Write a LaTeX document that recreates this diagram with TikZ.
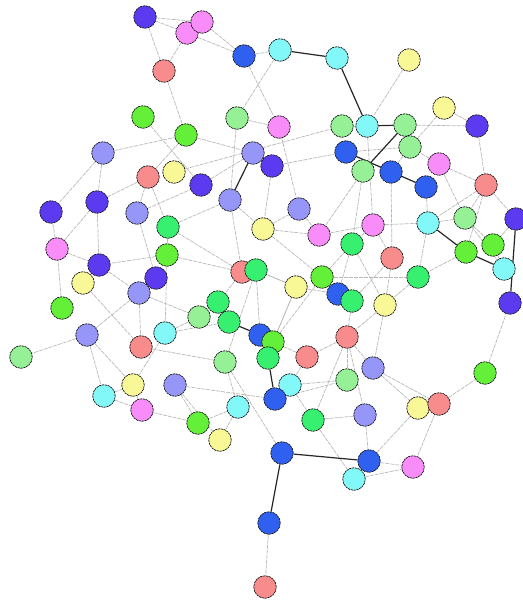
\documentclass[tikz,border=0pt]{standalone}
\usetikzlibrary{backgrounds}
\definecolor{cV}{RGB}{92,58,240}
\definecolor{cP}{RGB}{248,140,248}
\definecolor{cS}{RGB}{248,140,140}
\definecolor{cB}{RGB}{48,96,240}
\definecolor{cC}{RGB}{130,248,248}
\definecolor{cY}{RGB}{248,248,150}
\definecolor{cLG}{RGB}{150,240,150}
\definecolor{cG}{RGB}{100,240,56}
\definecolor{cSG}{RGB}{56,240,112}
\definecolor{cL}{RGB}{150,150,248}
\tikzset{
  vtx/.style={circle,draw=black!90,line width=0.7pt,dash pattern=on 2.2pt off 0.7pt,minimum size=22.5pt,inner sep=0pt},
  V/.style={vtx,fill=cV}, P/.style={vtx,fill=cP}, S/.style={vtx,fill=cS},
  B/.style={vtx,fill=cB}, C/.style={vtx,fill=cC}, Y/.style={vtx,fill=cY},
  LG/.style={vtx,fill=cLG}, G/.style={vtx,fill=cG}, SG/.style={vtx,fill=cSG},
  L/.style={vtx,fill=cL},
  edge/.style={draw=black!28,line width=0.7pt,dash pattern=on 4pt off 1pt},
  strong/.style={draw=black!85,line width=1.2pt}
}
\begin{document}
\begin{tikzpicture}[x=1pt,y=-1pt]
\useasboundingbox (0,0) rectangle (522,601);
\node[V] (n1) at (145,17) {};
\node[P] (n2) at (187,33) {};
\node[P] (n3) at (202,22) {};
\node[S] (n4) at (164,71) {};
\node[B] (n5) at (244,56) {};
\node[C] (n6) at (280,50) {};
\node[C] (n7) at (337,58) {};
\node[Y] (n8) at (409,60) {};
\node[G] (n9) at (143,117) {};
\node[G] (n10) at (186,135) {};
\node[LG] (n11) at (237,118) {};
\node[P] (n12) at (279,127) {};
\node[L] (n13) at (103,153) {};
\node[S] (n14) at (148,177) {};
\node[Y] (n15) at (174,172) {};
\node[V] (n16) at (201,185) {};
\node[L] (n17) at (253,153) {};
\node[V] (n18) at (272,166) {};
\node[LG] (n19) at (342,126) {};
\node[C] (n20) at (367,126) {};
\node[LG] (n21) at (405,125) {};
\node[Y] (n22) at (444,108) {};
\node[V] (n23) at (477,126) {};
\node[B] (n24) at (346,152) {};
\node[LG] (n25) at (410,147) {};
\node[LG] (n26) at (363,171) {};
\node[B] (n27) at (391,172) {};
\node[P] (n28) at (439,164) {};
\node[B] (n29) at (426,187) {};
\node[S] (n30) at (486,185) {};
\node[V] (n31) at (51,212) {};
\node[V] (n32) at (97,202) {};
\node[L] (n33) at (137,213) {};
\node[L] (n34) at (230,200) {};
\node[SG] (n35) at (168,227) {};
\node[Y] (n36) at (263,229) {};
\node[L] (n37) at (299,209) {};
\node[P] (n38) at (319,235) {};
\node[P] (n39) at (373,225) {};
\node[C] (n40) at (428,223) {};
\node[LG] (n41) at (465,218) {};
\node[V] (n42) at (516,219) {};
\node[G] (n43) at (493,245) {};
\node[SG] (n44) at (352,244) {};
\node[S] (n45) at (392,258) {};
\node[G] (n46) at (466,252) {};
\node[C] (n47) at (504,269) {};
\node[V] (n48) at (510,303) {};
\node[P] (n49) at (57,249) {};
\node[V] (n50) at (99,265) {};
\node[G] (n51) at (167,255) {};
\node[V] (n52) at (156,278) {};
\node[Y] (n53) at (83,283) {};
\node[L] (n54) at (139,293) {};
\node[S] (n55) at (242,272) {};
\node[SG] (n56) at (256,270) {};
\node[G] (n57) at (322,277) {};
\node[Y] (n58) at (296,287) {};
\node[SG] (n59) at (418,277) {};
\node[B] (n60) at (338,294) {};
\node[SG] (n61) at (352,301) {};
\node[Y] (n62) at (385,305) {};
\node[G] (n63) at (62,308) {};
\node[SG] (n64) at (218,302) {};
\node[LG] (n65) at (199,317) {};
\node[SG] (n66) at (229,322) {};
\node[L] (n67) at (87,335) {};
\node[C] (n68) at (165,333) {};
\node[B] (n69) at (260,335) {};
\node[G] (n70) at (273,342) {};
\node[SG] (n71) at (268,358) {};
\node[S] (n72) at (347,337) {};
\node[S] (n73) at (141,347) {};
\node[S] (n74) at (307,357) {};
\node[LG] (n75) at (21,357) {};
\node[LG] (n76) at (225,362) {};
\node[L] (n77) at (373,368) {};
\node[G] (n78) at (485,373) {};
\node[Y] (n79) at (133,385) {};
\node[L] (n80) at (175,385) {};
\node[C] (n81) at (290,385) {};
\node[LG] (n82) at (347,380) {};
\node[C] (n83) at (104,396) {};
\node[P] (n84) at (142,410) {};
\node[C] (n85) at (238,407) {};
\node[B] (n86) at (275,399) {};
\node[SG] (n87) at (313,420) {};
\node[L] (n88) at (365,415) {};
\node[Y] (n89) at (418,408) {};
\node[S] (n90) at (439,404) {};
\node[G] (n91) at (198,423) {};
\node[Y] (n92) at (220,440) {};
\node[B] (n93) at (282,453) {};
\node[B] (n94) at (369,461) {};
\node[C] (n95) at (354,479) {};
\node[P] (n96) at (413,467) {};
\node[B] (n97) at (269,523) {};
\node[S] (n98) at (265,587) {};
\begin{scope}[on background layer]
\foreach \a/\b in {1/2,1/4,1/3,2/4,2/5,3/5,5/6,4/10,6/11,5/12,11/12,11/34,12/37,10/17,15/19,9/16,13/10,13/31,13/32,14/10,32/14,17/18,18/24,8/20,22/23,21/23,22/25,23/30,28/30,28/25,20/39,27/45,29/40,28/41,30/40,30/41,30/42,30/46,19/20,24/25,25/27,26/38,39/40,39/44,39/45,38/39,40/41,40/59,41/43,41/47,45/62,44/62,59/62,57/59,58/60,57/60,61/72,62/72,72/74,72/77,72/82,72/87,72/88,81/82,77/89,77/90,86/82,87/88,57/44,60/44,58/56,58/70,34/35,34/36,34/55,36/37,36/38,36/57,55/35,56/58,55/64,56/69,70/58,70/57,74/70,76/56,66/68,14/33,14/35,33/16,16/17,18/36,37/38,33/52,35/51,51/50,51/68,51/55,50/54,53/73,54/67,54/73,67/75,67/83,67/79,63/49,49/31,49/50,32/49,32/50,68/79,73/76,54/65,53/50,68/65,80/91,80/92,79/84,83/84,83/79,84/91,85/91,85/92,85/76,81/87,87/95,93/76,88/94,89/94,90/96,94/96,95/96,94/95,90/78,97/98,78/48,89/90,42/43,43/47,46/59,26/44,74/81,61/45,62/77,80/86,81/86}
  \draw[edge] (n\a) -- (n\b);
\foreach \a/\b in {6/7,7/20,20/21,21/26,24/29,17/34,40/46,46/47,42/48,66/69,71/86,93/97,93/94}
  \draw[strong] (n\a) -- (n\b);
\end{scope}
\end{tikzpicture}
\end{document}
